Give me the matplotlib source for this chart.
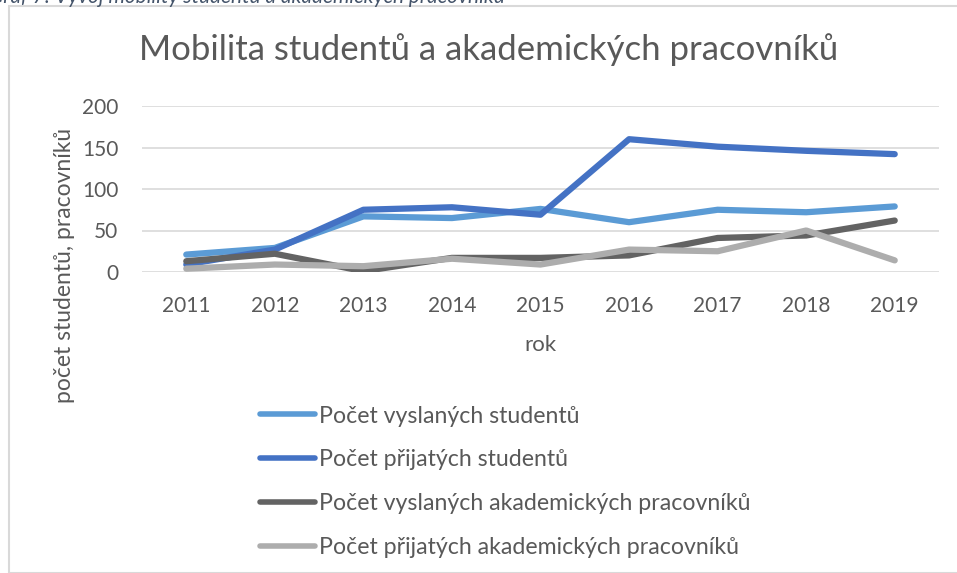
import matplotlib.pyplot as plt
from matplotlib.patches import Rectangle

plt.rcParams['font.family'] = ['Lato', 'DejaVu Sans']

# data
years = ['2011', '2012', '2013', '2014', '2015', '2016', '2017', '2018', '2019']
sent_students = [21, 29, 67, 65, 76, 60, 75, 72, 79]
recv_students = [9, 27, 75, 78, 69, 160, 151, 146, 142]
sent_staff = [13, 22, 1, 17, 17, 20, 41, 44, 62]
recv_staff = [4, 9, 7, 16, 9, 27, 25, 50, 14]

labels = ['Počet vyslaných studentů', 'Počet přijatých studentů',
          'Počet vyslaných akademických pracovníků', 'Počet přijatých akademických pracovníků']
colors = ['#5B9BD5', '#4472C4', '#636363', '#ADADAD']
series = [sent_students, recv_students, sent_staff, recv_staff]

W, H = 957, 573
fig = plt.figure(figsize=(W / 100, H / 100), dpi=100)

# chart frame border
fig.patches.append(Rectangle((8.5 / W, 0), 1, 1 - 6 / H, transform=fig.transFigure,
                             fill=False, edgecolor='#D9D9D9', linewidth=1.5))

# cut-off caption at the very top
fig.text(-0.012, 1 - 3 / H, 'Graf 7: Vývoj mobility studentů a akademických pracovníků',
         fontsize=15, style='italic', color='#44546A', va='baseline', ha='left')

ax = fig.add_axes([142 / W, 1 - 272 / H, 797 / W, 166 / H])
x = range(len(years))
for vals, lab, c in zip(series, labels, colors):
    ax.plot(x, vals, color=c, lw=4.5, label=lab, solid_capstyle='round', solid_joinstyle='round')

ax.set_xlim(-0.5, len(years) - 0.5)
ax.set_ylim(0, 200)
ax.set_yticks([0, 50, 100, 150, 200])
ax.set_xticks(list(x))
ax.set_xticklabels(years)
ax.grid(axis='y', color='#D9D9D9', lw=1.2)
ax.set_axisbelow(True)
for s in ax.spines.values():
    s.set_visible(False)
ax.tick_params(length=0, labelsize=15, colors='#595959')
ax.tick_params(axis='y', pad=17)
ax.tick_params(axis='x', pad=17)

ax.set_xlabel('rok', fontsize=16, color='#595959', labelpad=14)
fig.text(65 / W, 1 - 265 / H, 'počet studentů, pracovníků', rotation=90, fontsize=16.5,
         color='#595959', ha='center', va='center')

fig.text(489 / W, 1 - 50 / H, 'Mobilita studentů a akademických pracovníků', fontsize=25,
         color='#595959', ha='center', va='center')

handles, labs = ax.get_legend_handles_labels()
leg = fig.legend(handles, labs, loc='upper left', bbox_to_anchor=(241 / W, 1 - 387 / H),
                 frameon=False, fontsize=16.7, handlelength=2.4, handletextpad=0.15,
                 labelspacing=0.98, borderpad=0.3, labelcolor='#595959')
for h in leg.get_lines():
    h.set_linewidth(4)

fig.savefig('out.png', dpi=100)
